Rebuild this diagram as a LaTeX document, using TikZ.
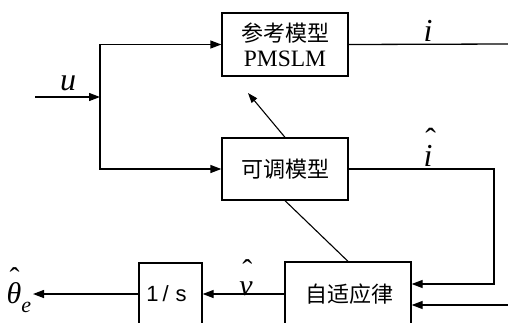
\documentclass[tikz,border=0pt]{standalone}
\usepackage{fontspec}
\setmainfont{Liberation Serif}
\newfontfamily\cjkfont{Noto Sans CJK SC}
\newfontfamily\sansfont{Liberation Sans}
\usetikzlibrary{arrows.meta}
\newcommand\hatit[2][0.12em]{\leavevmode\rlap{\hspace{#1}\raisebox{0.5em}{\char"02C6}}\textit{#2}}
\begin{document}
\begin{tikzpicture}[x=1pt,y=-1pt,
  blk/.style={draw,line width=1.3pt,inner sep=0pt},
  conn/.style={line width=1.3pt},
  arr/.style={conn,-{Triangle[length=11pt,width=8pt]}},
  thin/.style={line width=1.1pt},
  cjk/.style={font=\cjkfont\fontsize{22}{24}\selectfont},
  mlab/.style={inner sep=0pt,font=\fontsize{32}{36}\selectfont}]
\useasboundingbox (0,0) rectangle (508,322);
\clip (0,0) rectangle (508,322);
% blocks
\node[blk,minimum width=126pt,minimum height=63pt,align=center] (ref) at (285,44.5)
  {{\cjkfont\fontsize{22}{24}\selectfont 参考模型}\\[7pt]{\fontsize{23.5}{26}\selectfont PMSLM}};
\node[blk,cjk,minimum width=126pt,minimum height=62pt] (adj) at (285,169) {可调模型};
\node[blk,minimum width=126pt,minimum height=80pt] (adapt) at (348,302) {};
\node[cjk,inner sep=0pt] (adaptlbl) at (349,294) {自适应律};
\node[blk,minimum width=63pt,minimum height=80pt] (integ) at (170.5,303) {};
\node[inner sep=0pt,font=\sansfont\fontsize{22}{24}\selectfont] (integlbl) at (166.5,294) {1\hspace{4pt}/\hspace{7pt}s};
% coordinates
\coordinate (uin) at (35,97);
\coordinate (j) at (100,97);
\coordinate (iout) at (508,44);
\coordinate (c2) at (494,284);
\coordinate (e2) at (508,305);
\coordinate (tip) at (248,93);
\coordinate (thout) at (33,294);
% connectors
\draw[arr] (uin) -- (j);
\draw[arr] (j) |- (ref.west);
\draw[arr] (j) |- (adj.west);
\draw[conn] (ref.east) -- (iout);
\draw[arr] (adj.east) -| (c2) -- (adapt.east |- c2);
\draw[arr] (e2) -- (adapt.east |- e2);
\draw[thin,-{Triangle[length=10pt,width=7pt]}] (adj.north) -- (tip);
\draw[thin] (adj.south) -- (adapt.north);
\draw[arr] (adapt.west |- thout) -- (integ.east |- thout);
\draw[arr] (integ.west |- thout) -- (thout);
% labels
\node[mlab] (ulbl) at (68,83) {\textit{u}};
\node[mlab] (ilbl) at (428,31) {\textit{i}};
\node[mlab] (ihlbl) at (428,147) {\hatit[0.06em]{i}};
\node[mlab,font=\fontsize{30}{34}\selectfont] (vhlbl) at (246,278) {\hatit[0.1em]{v}};
\node[mlab,font=\fontsize{30}{34}\selectfont] (thlbl) at (19,290) {\hatit[0.1em]{θ}\raisebox{-0.3em}{\fontsize{22}{24}\selectfont\textit{e}}};
\end{tikzpicture}
\end{document}
